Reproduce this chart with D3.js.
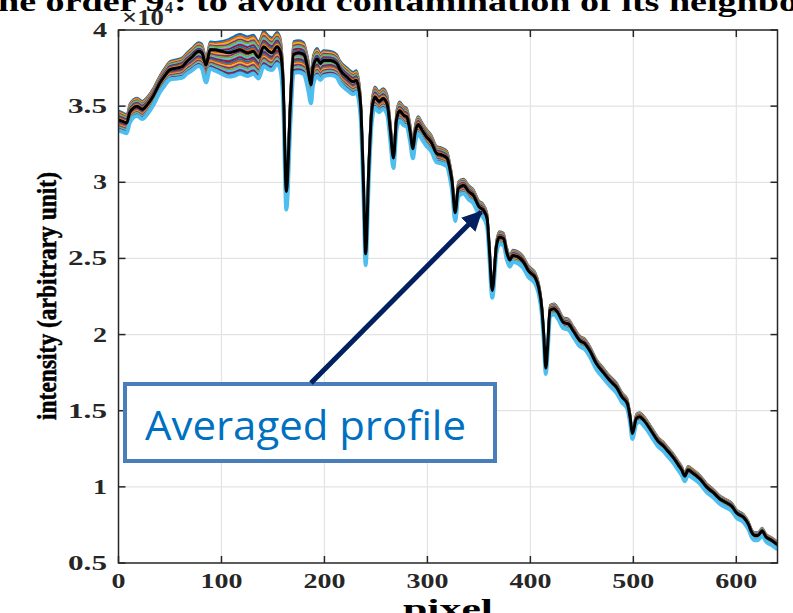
<!DOCTYPE html>
<html>
<head>
<meta charset="utf-8">
<script src="https://cdn.jsdelivr.net/npm/d3@7"></script>
<style>
  body { margin: 0; background: #fff; }
</style>
</head>
<body>
<script>
// Averaged profile (pixel, intensity)
var pixels = [0,4,8,11,18,23,28,34,40,45,50,57,62,66,71,78,81,85,89,94,100,107,113,118,125,131,136,141,146,149,154,157,160,163,167,170,175,180,184,187,189,193,196,199,206,212,215,222,228,231,235,238,240,243,246,249,253,257,261,264,267,270,273,277,280,283,286,288,291,295,299,304,309,314,319,322,324,327,330,335,340,345,350,354,358,360,363,367,370,374,377,380,383,388,393,398,405,408,411,413,415,417,419,423,427,432,437,442,448,453,458,464,471,477,484,489,494,497,499,503,506,511,518,524,529,534,539,544,547,550,553,558,565,571,578,584,589,596,600,607,612,615,618,621,625,629,634,640];
var averaged = [34100,34000,33900,34600,35000,34800,35100,35700,36500,37000,37400,37500,37600,37900,38200,38600,38500,37700,38700,38700,38600,38500,38600,38700,38500,38600,38200,38900,38600,38500,38900,38600,36300,29400,35200,38400,38500,38400,37400,36400,37600,38100,37800,38000,38000,37800,37400,36900,36600,36700,35200,29700,25300,30800,34700,35600,35300,35500,35100,33400,31600,34100,34700,34400,34300,33400,32200,33200,33800,33400,33000,32600,31900,31800,31600,30800,30000,28000,29600,29800,29400,29100,28400,28200,27600,25800,22900,25800,26400,26300,25400,24900,25200,25100,24800,24200,23700,23100,21800,20000,17800,19500,21600,21700,21400,20800,20700,20200,19600,19400,18900,18100,17500,17000,16500,15900,15500,14500,13500,14500,14600,14300,13600,13000,12700,12300,11900,11400,11100,10700,11100,10900,10500,10000,9600,9200,9000,8700,8300,8000,7500,7000,6800,6800,7100,6700,6500,6200];

// Spread of the individual frames around the average (above / below)
var bandPixels = [0,40,60,80,95,110,130,150,180,210,250,300,350,400,500,640];
var bandAbove  = [600,500,600,600,500,1000,1100,1000,800,600,700,500,400,350,300,200];
var bandBelow  = [700,600,700,1000,1400,1600,1500,1100,1300,900,700,600,500,400,350,300];
// position of each frame within the band (0 = top, 1 = bottom)
var frameLevels = [0,0.05,0.09,0.14,0.18,0.23,0.27,0.32,0.36,0.41,0.45,0.5,0.55,0.59,0.64,0.68,0.73,0.77,0.82,0.86,0.91,0.95,1];
var frameColors = ['#0072BD','#D95319','#EDB120','#7E2F8E','#77AC30','#4DBEEE','#A2142F'];

var xTicks = [0,100,200,300,400,500,600];
var yTicks = [5000,10000,15000,20000,25000,30000,35000,40000];

var W = 793, H = 613;
var plot = {left: 118.5, top: 30, right: 777.5, bottom: 563};
var serif = '"Liberation Serif", "DejaVu Serif", serif';

var svg = d3.select('body').append('svg')
    .attr('width', W)
    .attr('height', H);

var x = d3.scaleLinear().domain([0, 640]).range([plot.left, plot.right]);
var y = d3.scaleLinear().domain([5000, 40000]).range([plot.bottom, plot.top]);

var above = d3.scaleLinear().domain(bandPixels).range(bandAbove);
var below = d3.scaleLinear().domain(bandPixels).range(bandBelow);

// Grid
svg.append('g').selectAll('line')
    .data(xTicks.slice(1)).enter().append('line')
    .attr('x1', d => x(d)).attr('x2', d => x(d))
    .attr('y1', plot.top).attr('y2', plot.bottom)
    .attr('stroke', '#e3e3e3').attr('stroke-width', 1.2);
svg.append('g').selectAll('line')
    .data(yTicks.slice(1, -1)).enter().append('line')
    .attr('x1', plot.left).attr('x2', plot.right)
    .attr('y1', d => y(d)).attr('y2', d => y(d))
    .attr('stroke', '#e3e3e3').attr('stroke-width', 1.2);

svg.append('clipPath').attr('id', 'clip')
  .append('rect')
    .attr('x', plot.left).attr('y', plot.top)
    .attr('width', plot.right - plot.left).attr('height', plot.bottom - plot.top);

var lines = svg.append('g').attr('clip-path', 'url(#clip)');

var drawLine = d3.line()
    .x(d => x(d[0]))
    .y(d => y(d[1]))
    .curve(d3.curveMonotoneX);

// Individual frames (bottom one drawn last, in cyan)
frameLevels.forEach(function(f, i) {
    var pts = pixels.map(function(p, k) {
        return [p, averaged[k] + above(p) - f * (above(p) + below(p))];
    });
    var last = i === frameLevels.length - 1;
    lines.append('path')
        .attr('d', drawLine(pts))
        .attr('fill', 'none')
        .attr('stroke', last ? '#4DBEEE' : frameColors[i % frameColors.length])
        .attr('stroke-width', last ? 4 : 2)
        .attr('stroke-linejoin', 'round');
});

// Averaged profile
lines.append('path')
    .attr('d', drawLine(pixels.map((p, k) => [p, averaged[k]])))
    .attr('fill', 'none')
    .attr('stroke', '#000')
    .attr('stroke-width', 3)
    .attr('stroke-linejoin', 'round');

// Axes box and ticks
var tickLen = 7;
var axes = svg.append('g').attr('stroke', '#262626').attr('stroke-width', 1.5);
axes.append('rect')
    .attr('x', plot.left).attr('y', plot.top)
    .attr('width', plot.right - plot.left).attr('height', plot.bottom - plot.top)
    .attr('fill', 'none');
xTicks.forEach(function(t) {
    axes.append('line').attr('x1', x(t)).attr('x2', x(t)).attr('y1', plot.bottom).attr('y2', plot.bottom - tickLen);
    axes.append('line').attr('x1', x(t)).attr('x2', x(t)).attr('y1', plot.top).attr('y2', plot.top + tickLen);
});
yTicks.forEach(function(t) {
    axes.append('line').attr('x1', plot.left).attr('x2', plot.left + tickLen).attr('y1', y(t)).attr('y2', y(t));
    axes.append('line').attr('x1', plot.right).attr('x2', plot.right - tickLen).attr('y1', y(t)).attr('y2', y(t));
});

function labelWidth(s) {
    return s.replace(/\./g, '').length * 14 + (s.indexOf('.') >= 0 ? 11 : 0);
}

// Tick labels
svg.append('g').selectAll('text')
    .data(xTicks).enter().append('text')
    .attr('x', d => x(d))
    .attr('y', 588)
    .attr('text-anchor', 'middle')
    .style('font-family', serif)
    .attr('font-size', 20).attr('font-weight', 'bold').attr('fill', '#262626')
    .attr('textLength', d => labelWidth(String(d)))
    .attr('lengthAdjust', 'spacingAndGlyphs')
    .text(d => d);

svg.append('g').selectAll('text')
    .data(yTicks).enter().append('text')
    .attr('x', 107)
    .attr('y', d => y(d) + 7)
    .attr('text-anchor', 'end')
    .style('font-family', serif)
    .attr('font-size', 20).attr('font-weight', 'bold').attr('fill', '#262626')
    .attr('textLength', d => labelWidth(String(d / 10000)))
    .attr('lengthAdjust', 'spacingAndGlyphs')
    .text(d => d / 10000);

// Title (clipped at the top of the figure)
svg.append('text')
    .attr('x', -2).attr('y', 11)
    .style('font-family', serif)
    .attr('font-size', 28).attr('font-weight', 'bold').attr('fill', '#000')
    .attr('textLength', 800).attr('lengthAdjust', 'spacingAndGlyphs')
    .text('he order 9 : to avoid contamination of its neighbo');

// Exponent
svg.append('text')
    .attr('x', 122).attr('y', 25)
    .style('font-family', serif)
    .attr('font-size', 24).attr('font-weight', 'bold').attr('fill', '#262626')
    .attr('textLength', 42).attr('lengthAdjust', 'spacingAndGlyphs')
    .text('\u00d710');
svg.append('text')
    .attr('x', 165).attr('y', 13)
    .style('font-family', serif)
    .attr('font-size', 16).attr('font-weight', 'bold').attr('fill', '#262626')
    .text('4');

// Axis labels
svg.append('text')
    .attr('x', 448).attr('y', 618)
    .attr('text-anchor', 'middle')
    .style('font-family', serif)
    .attr('font-size', 28).attr('font-weight', 'bold').attr('fill', '#000')
    .attr('textLength', 90).attr('lengthAdjust', 'spacingAndGlyphs')
    .text('pixel');

svg.append('text')
    .attr('transform', 'translate(56,296) rotate(-90)')
    .attr('text-anchor', 'middle')
    .style('font-family', serif)
    .attr('font-size', 28).attr('font-weight', 'bold').attr('fill', '#000')
    .attr('stroke', '#000').attr('stroke-width', 0.5)
    .attr('textLength', 248).attr('lengthAdjust', 'spacingAndGlyphs')
    .text('intensity (arbitrary unit)');

// Annotation box
svg.append('rect')
    .attr('x', 125).attr('y', 384)
    .attr('width', 370).attr('height', 77)
    .attr('fill', '#fff')
    .attr('stroke', '#4a7ebb').attr('stroke-width', 4);

svg.append('text')
    .attr('x', 145).attr('y', 440)
    .style('font-family', '"Open Sans", "Noto Sans", sans-serif')
    .attr('font-size', 40).attr('fill', '#0070c0')
    .attr('textLength', 321).attr('lengthAdjust', 'spacingAndGlyphs')
    .text('Averaged profile');

// Arrow to the averaged profile
svg.append('defs').append('marker')
    .attr('id', 'head')
    .attr('viewBox', '0 0 10 10')
    .attr('refX', 9).attr('refY', 5)
    .attr('markerWidth', 4).attr('markerHeight', 4)
    .attr('orient', 'auto')
  .append('path')
    .attr('d', 'M0,0L10,5L0,10z')
    .attr('fill', '#002060');

svg.append('line')
    .attr('x1', 311).attr('y1', 383)
    .attr('x2', 481).attr('y2', 212)
    .attr('stroke', '#002060').attr('stroke-width', 5)
    .attr('marker-end', 'url(#head)');
</script>
</body>
</html>
